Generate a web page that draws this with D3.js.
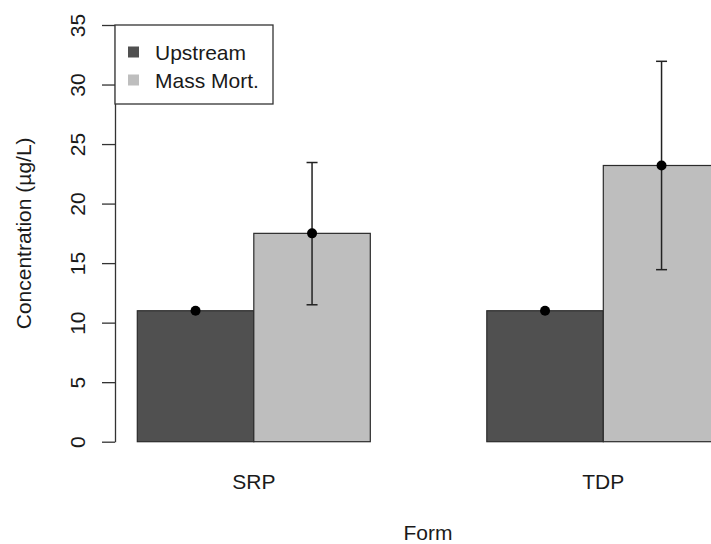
<!DOCTYPE html>
<html>
<head>
<meta charset="utf-8">
<script src="https://cdn.jsdelivr.net/npm/d3@7"></script>
<style>
  html, body { margin: 0; padding: 0; background: #fff; }
  svg { display: block; font-family: "Liberation Sans", Arial, sans-serif; }
</style>
</head>
<body>
<svg id="chart" width="711" height="544"></svg>
<script>
// ---- data ----
const groups = ["SRP", "TDP"];
const series = ["Upstream", "Mass Mort."];
const upstreamValues = [11.0, 11.0];
const massMortValues = [17.5, 23.2];
const massMortLower = [11.5, 14.45];
const massMortUpper = [23.45, 31.95];
const yTicks = [0, 5, 10, 15, 20, 25, 30, 35];
const seriesColors = ["#505050", "#bebebe"];

const rows = groups.map((g, i) => ({
  group: g,
  values: [
    { key: series[0], value: upstreamValues[i], lo: null, hi: null },
    { key: series[1], value: massMortValues[i], lo: massMortLower[i], hi: massMortUpper[i] }
  ]
}));

const svg = d3.select("#chart");
const fontSize = 21;
const ink = "#1a1a1a";

const y = d3.scaleLinear().domain([0, 35]).range([441.7, 25]);
const x0 = d3.scaleBand().domain(groups).range([137.3, 137.3 + 5 * 116.5]).paddingInner(1 / 3).paddingOuter(0);
const x1 = d3.scaleBand().domain(series).range([0, x0.bandwidth()]);
const color = d3.scaleOrdinal().domain(series).range(seriesColors);

// bars
const g = svg.selectAll("g.grp").data(rows).join("g")
  .attr("class", "grp")
  .attr("transform", d => `translate(${x0(d.group)},0)`);

g.selectAll("rect").data(d => d.values).join("rect")
  .attr("x", d => x1(d.key))
  .attr("y", d => y(d.value))
  .attr("width", x1.bandwidth())
  .attr("height", d => y(0) - y(d.value))
  .attr("fill", d => color(d.key))
  .attr("stroke", "#2b2b2b")
  .attr("stroke-width", 1.2);

// error bars
const eb = g.selectAll("g.eb").data(d => d.values.filter(v => v.lo !== null)).join("g").attr("class", "eb");
eb.append("line")
  .attr("x1", d => x1(d.key) + x1.bandwidth() / 2)
  .attr("x2", d => x1(d.key) + x1.bandwidth() / 2)
  .attr("y1", d => y(d.lo)).attr("y2", d => y(d.hi))
  .attr("stroke", "#222").attr("stroke-width", 1.5);
["lo", "hi"].forEach(k => {
  eb.append("line")
    .attr("x1", d => x1(d.key) + x1.bandwidth() / 2 - 5.5)
    .attr("x2", d => x1(d.key) + x1.bandwidth() / 2 + 5.5)
    .attr("y1", d => y(d[k])).attr("y2", d => y(d[k]))
    .attr("stroke", "#222").attr("stroke-width", 1.5);
});

// points
g.selectAll("circle").data(d => d.values).join("circle")
  .attr("cx", d => x1(d.key) + x1.bandwidth() / 2)
  .attr("cy", d => y(d.value))
  .attr("r", 5)
  .attr("fill", "#000");

// y axis
const yAxis = d3.axisLeft(y).tickValues(yTicks).tickSize(13).tickSizeOuter(0).tickFormat(d3.format("d"));
const ya = svg.append("g").attr("transform", "translate(115,0)").call(yAxis);
ya.select(".domain").attr("stroke", "#333").attr("stroke-width", 1.3);
ya.selectAll(".tick line").attr("stroke", "#333").attr("stroke-width", 1.3);
ya.selectAll(".tick text")
  .attr("x", null).attr("dy", null)
  .attr("transform", "translate(-30,0) rotate(-90)")
  .attr("text-anchor", "middle")
  .attr("font-size", fontSize)
  .attr("font-family", "Liberation Sans, Arial, sans-serif")
  .attr("fill", ink);

// x category labels
svg.selectAll("text.xlab").data(groups).join("text")
  .attr("class", "xlab")
  .attr("x", d => x0(d) + x0.bandwidth() / 2)
  .attr("y", 488.5)
  .attr("text-anchor", "middle")
  .attr("font-size", fontSize)
  .attr("fill", ink)
  .text(d => d);

// axis titles
svg.append("text")
  .attr("x", 428).attr("y", 539.5)
  .attr("text-anchor", "middle")
  .attr("font-size", fontSize)
  .attr("fill", ink)
  .text("Form");

svg.append("text")
  .attr("transform", `translate(31,${(y(0) + y(35)) / 2}) rotate(-90)`)
  .attr("text-anchor", "middle")
  .attr("font-size", fontSize)
  .attr("fill", ink)
  .text("Concentration (µg/L)");

// legend
const lg = svg.append("g").attr("transform", "translate(115,25)");
lg.append("rect").attr("width", 158).attr("height", 79)
  .attr("fill", "#fff").attr("stroke", "#333").attr("stroke-width", 1.3);
const li = lg.selectAll("g.li").data(series).join("g")
  .attr("class", "li")
  .attr("transform", (d, i) => `translate(0,${27 + i * 28})`);
li.append("rect").attr("x", 13).attr("y", -5.5).attr("width", 11).attr("height", 11)
  .attr("fill", d => color(d));
li.append("text").attr("x", 40).attr("y", 7.5)
  .attr("font-size", fontSize).attr("fill", ink)
  .text(d => d);
</script>
</body>
</html>
